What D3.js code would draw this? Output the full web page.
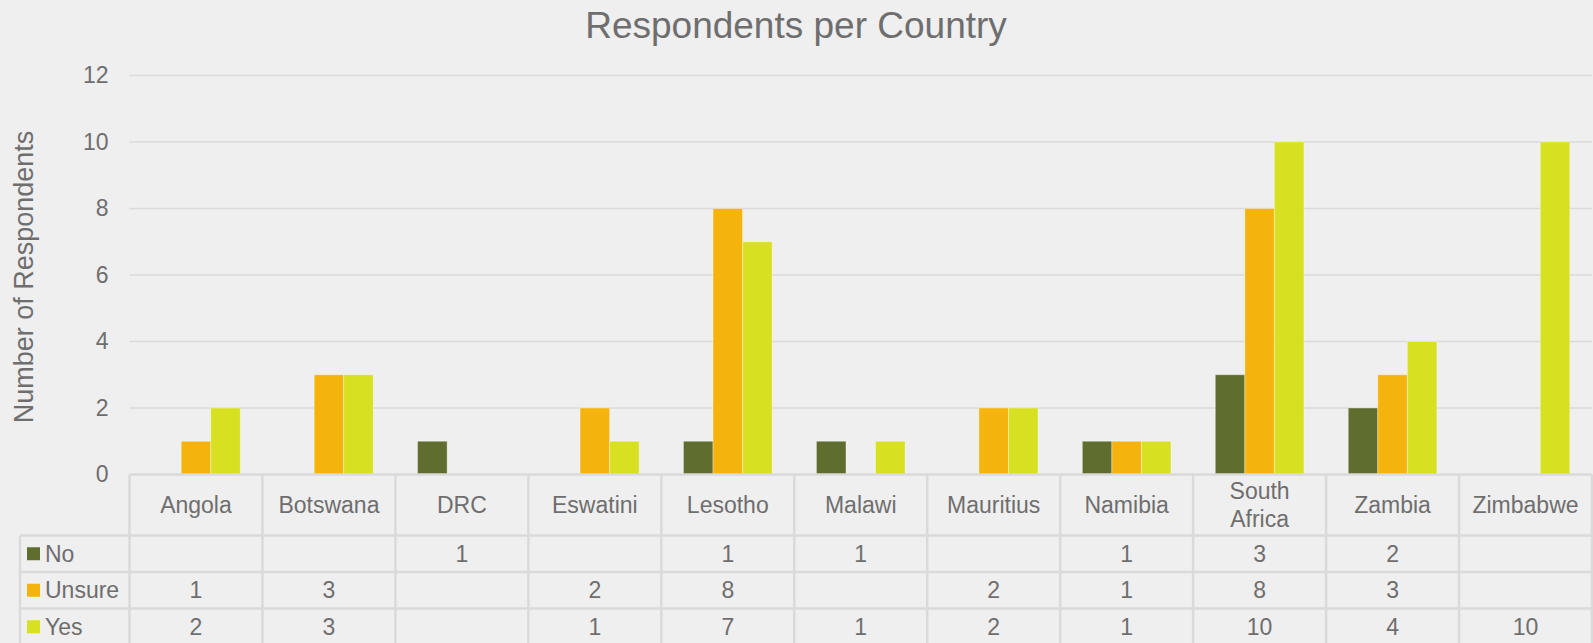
<!DOCTYPE html>
<html>
<head>
<meta charset="utf-8">
<script src="https://cdn.jsdelivr.net/npm/d3@7"></script>
<style>
  html, body { margin: 0; padding: 0; background: #efefef; }
  svg { display: block; font-family: "Liberation Sans", Arial, sans-serif; }
  .label { fill: #6e6e6e; }
</style>
</head>
<body>
<div id="chart"></div>
<script>
// chart data
const countries = ['Angola', 'Botswana', 'DRC', 'Eswatini', 'Lesotho', 'Malawi', 'Mauritius', 'Namibia', 'South Africa', 'Zambia', 'Zimbabwe'];
const seriesNames = ['No', 'Unsure', 'Yes'];
const noValues = [null, null, 1, null, 1, 1, null, 1, 3, 2, null];
const unsureValues = [1, 3, null, 2, 8, null, 2, 1, 8, 3, null];
const yesValues = [2, 3, null, 1, 7, 1, 2, 1, 10, 4, 10];
const yTicks = [0, 2, 4, 6, 8, 10, 12];

const seriesColors = ['#5f6e2e', '#f5b30e', '#d8e022'];

class groupedBarTable {
  constructor(_config) {
    this.config = {
      parentElement: _config.parentElement,
      containerWidth: 1593,
      containerHeight: 643,
      plotLeft: 129.5,
      plotRight: 1592,
      plotTop: 75.5,
      plotBottom: 474.5,
      headerHeight: 61,
      rowHeight: 36.5,
      legendLeft: 20,
      titleX: 796,
      textColor: '#6e6e6e',
      gridColor: '#dadada'
    };
    this.initVis();
  }

  initVis() {
    let vis = this;
    const c = vis.config;

    vis.svg = d3.select(c.parentElement).append('svg')
      .attr('width', c.containerWidth)
      .attr('height', c.containerHeight);

    vis.svg.append('rect')
      .attr('width', c.containerWidth)
      .attr('height', c.containerHeight)
      .attr('fill', '#efefef');

    vis.x = d3.scaleBand()
      .domain(countries)
      .range([c.plotLeft, c.plotRight]);

    // Excel gap width 150% -> 1.5 bar widths of empty space per category
    vis.xSub = d3.scaleBand()
      .domain(seriesNames)
      .range([0, vis.x.bandwidth()])
      .paddingOuter(0.75);

    vis.y = d3.scaleLinear()
      .domain([0, 12])
      .range([c.plotBottom, c.plotTop]);

    vis.renderVis();
  }

  renderVis() {
    let vis = this;
    const c = vis.config;

    // Title
    vis.svg.append('text')
      .attr('class', 'label')
      .attr('x', c.titleX)
      .attr('y', 38)
      .attr('text-anchor', 'middle')
      .style('font-size', '37px')
      .text('Respondents per Country');

    // Gridlines
    vis.svg.append('g')
      .selectAll('line')
      .data(yTicks.filter(d => d > 0))
      .join('line')
      .attr('x1', c.plotLeft)
      .attr('x2', c.plotRight)
      .attr('y1', d => vis.y(d))
      .attr('y2', d => vis.y(d))
      .attr('stroke', c.gridColor)
      .attr('stroke-width', 1.5);

    // Y axis labels
    const yAxis = d3.axisLeft(vis.y).tickValues(yTicks).tickSize(0).tickPadding(21);
    const yAxisG = vis.svg.append('g')
      .attr('transform', `translate(${c.plotLeft},0)`)
      .call(yAxis);
    yAxisG.select('.domain').remove();
    yAxisG.selectAll('text')
      .attr('fill', c.textColor)
      .style('font-size', '23px')
      .style('font-family', '"Liberation Sans", Arial, sans-serif');

    // Y axis title
    vis.svg.append('text')
      .attr('class', 'label')
      .attr('transform', `translate(33,${(c.plotTop + c.plotBottom) / 2 + 2}) rotate(-90)`)
      .attr('text-anchor', 'middle')
      .style('font-size', '27px')
      .text('Number of Respondents');

    // Bars
    const seriesValues = [noValues, unsureValues, yesValues];
    const barData = [];
    seriesNames.forEach((s, i) => {
      countries.forEach((country, j) => {
        if (seriesValues[i][j] != null) {
          barData.push({ series: s, country: country, value: seriesValues[i][j], color: seriesColors[i] });
        }
      });
    });

    vis.svg.append('g')
      .selectAll('rect')
      .data(barData)
      .join('rect')
      .attr('x', d => vis.x(d.country) + vis.xSub(d.series))
      .attr('width', vis.xSub.bandwidth())
      .attr('y', d => vis.y(d.value))
      .attr('height', d => vis.y(0) - vis.y(d.value))
      .attr('fill', d => d.color)
      .attr('stroke', '#ffffff')
      .attr('stroke-opacity', 0.35)
      .attr('stroke-width', 1);

    // Data table
    const table = vis.svg.append('g');
    const headerBottom = c.plotBottom + c.headerHeight;
    const rowTops = seriesNames.map((s, i) => headerBottom + i * c.rowHeight);
    const tableBottom = headerBottom + seriesNames.length * c.rowHeight;

    // horizontal lines
    table.append('line')
      .attr('x1', c.plotLeft).attr('x2', c.plotRight)
      .attr('y1', c.plotBottom).attr('y2', c.plotBottom);
    rowTops.concat([tableBottom]).forEach(y => {
      table.append('line')
        .attr('x1', c.legendLeft).attr('x2', c.plotRight)
        .attr('y1', y).attr('y2', y);
    });
    // vertical lines
    table.append('line')
      .attr('x1', c.legendLeft).attr('x2', c.legendLeft)
      .attr('y1', headerBottom).attr('y2', tableBottom);
    countries.forEach(country => {
      table.append('line')
        .attr('x1', vis.x(country)).attr('x2', vis.x(country))
        .attr('y1', c.plotBottom).attr('y2', tableBottom);
    });
    table.append('line')
      .attr('x1', c.plotRight).attr('x2', c.plotRight)
      .attr('y1', c.plotBottom).attr('y2', tableBottom);
    table.selectAll('line')
      .attr('stroke', c.gridColor)
      .attr('stroke-width', 2.5);

    // category header labels (wrap two-word names)
    countries.forEach(country => {
      const words = country.split(' ');
      const cx = vis.x(country) + vis.x.bandwidth() / 2;
      const cy = c.plotBottom + c.headerHeight / 2;
      const t = table.append('text')
        .attr('class', 'label')
        .attr('text-anchor', 'middle')
        .style('font-size', '23px');
      words.forEach((w, k) => {
        t.append('tspan')
          .attr('x', cx)
          .attr('y', cy + 8 + (k - (words.length - 1) / 2) * 28)
          .text(w);
      });
    });

    // legend keys and values
    seriesNames.forEach((s, i) => {
      const rowMid = rowTops[i] + c.rowHeight / 2;
      table.append('rect')
        .attr('x', 27)
        .attr('y', rowMid - 6.5)
        .attr('width', 13)
        .attr('height', 13)
        .attr('fill', seriesColors[i]);
      table.append('text')
        .attr('class', 'label')
        .attr('x', 45)
        .attr('y', rowMid + 8)
        .style('font-size', '23px')
        .text(s);
      countries.forEach((country, j) => {
        const v = seriesValues[i][j];
        if (v == null) return;
        table.append('text')
          .attr('class', 'label')
          .attr('x', vis.x(country) + vis.x.bandwidth() / 2)
          .attr('y', rowMid + 8)
          .attr('text-anchor', 'middle')
          .style('font-size', '23px')
          .text(v);
      });
    });
  }
}

new groupedBarTable({ parentElement: '#chart' });
</script>
</body>
</html>
